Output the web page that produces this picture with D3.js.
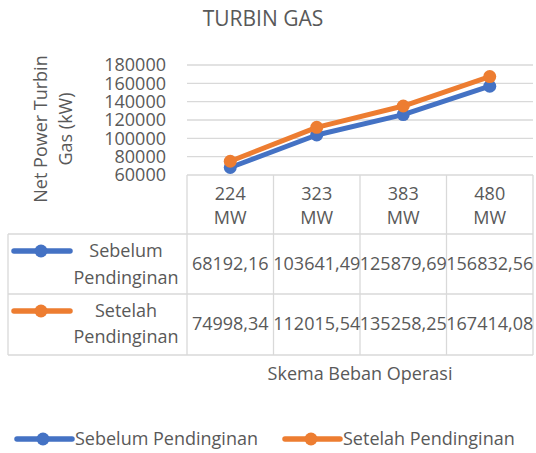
<!DOCTYPE html>
<html>
<head>
<meta charset="utf-8">
<script src="https://cdn.jsdelivr.net/npm/d3@7"></script>
<style>
  html, body { margin: 0; padding: 0; background: #fff; }
  svg { display: block; }
  text { font-family: "Open Sans", "Noto Sans", sans-serif; fill: #595959; }
</style>
</head>
<body>
<svg id="chart" width="536" height="453"></svg>
<script>
// ---- data ----
const categories = ["224 MW", "323 MW", "383 MW", "480 MW"];
const seriesNames = ["Sebelum Pendinginan", "Setelah Pendinginan"];
const sebelum = [68192.16, 103641.49, 125879.69, 156832.56];
const setelah = [74998.34, 112015.54, 135258.25, 167414.08];
const yTicks = [60000, 80000, 100000, 120000, 140000, 160000, 180000];
const colors = ["#4472C4", "#ED7D31"];
const chartTitle = "TURBIN GAS";
const yTitle = ["Net Power Turbin", "Gas (kW)"];
const xTitle = "Skema Beban Operasi";

const series = [
  { name: seriesNames[0], values: sebelum, color: colors[0] },
  { name: seriesNames[1], values: setelah, color: colors[1] }
];

// ---- layout ----
const plotLeft = 187, plotRight = 533, plotTop = 65, plotBottom = 175;
const tableLeft = 8;
const headerBottom = 234, row1Bottom = 294, row2Bottom = 355;
const gridColor = "#D9D9D9";

const svg = d3.select("#chart");
const x = d3.scaleBand().domain(categories).range([plotLeft, plotRight]);
const y = d3.scaleLinear().domain([60000, 180000]).range([plotBottom, plotTop]);
const locale = d3.formatLocale({ decimal: ",", thousands: "", grouping: [3], currency: ["", ""] });
const fmtVal = locale.format(".2f");
const fmtTick = d3.format("d");

// title
svg.append("text").attr("x", 263).attr("y", 26).attr("text-anchor", "middle")
  .style("font-size", "21px").text(chartTitle);

// gridlines
svg.append("g").selectAll("line").data(yTicks.filter(t => t > 60000)).join("line")
  .attr("x1", plotLeft).attr("x2", plotRight)
  .attr("y1", d => y(d)).attr("y2", d => y(d))
  .attr("stroke", gridColor).attr("stroke-width", 1.3);

// y axis labels
const yAxis = d3.axisLeft(y).tickValues(yTicks).tickFormat(fmtTick).tickSize(0).tickPadding(21);
const ga = svg.append("g").attr("transform", `translate(${plotLeft},0)`).call(yAxis);
ga.select(".domain").remove();
ga.selectAll("text").style("font-size", "18px").style("font-family", '"Open Sans", sans-serif').attr("fill", "#595959");

// y title
const yt = svg.append("text").attr("transform", "translate(40,129) rotate(-90)")
  .attr("text-anchor", "middle").style("font-size", "18px");
yTitle.forEach((t, i) => {
  yt.append("tspan").attr("x", 0).attr("y", i * 25).attr("dominant-baseline", "central").text(t);
});

// table lines
const tl = svg.append("g").attr("stroke", gridColor).attr("stroke-width", 1.3);
tl.append("line").attr("x1", plotLeft).attr("x2", plotRight).attr("y1", plotBottom).attr("y2", plotBottom);
[headerBottom, row1Bottom, row2Bottom].forEach(yy => {
  tl.append("line").attr("x1", tableLeft).attr("x2", plotRight).attr("y1", yy).attr("y2", yy);
});
tl.append("line").attr("x1", tableLeft).attr("x2", tableLeft).attr("y1", headerBottom).attr("y2", row2Bottom);
categories.forEach(c => {
  tl.append("line").attr("x1", x(c)).attr("x2", x(c)).attr("y1", plotBottom).attr("y2", row2Bottom);
});
tl.append("line").attr("x1", plotRight).attr("x2", plotRight).attr("y1", plotBottom).attr("y2", row2Bottom);

// header category labels
categories.forEach(c => {
  const parts = c.split(" ");
  const t = svg.append("text").attr("text-anchor", "middle").style("font-size", "18px");
  parts.forEach((p, i) => {
    t.append("tspan").attr("x", x(c) + x.bandwidth() / 2).attr("y", 200 + i * 24).text(p);
  });
});

// rows
const rowTops = [headerBottom, row1Bottom];
const rowLabelBase = [[257, 284], [317, 343]];
series.forEach((s, si) => {
  const rt = rowTops[si];
  const keyY = rt + 17;
  svg.append("line").attr("x1", 14).attr("x2", 70).attr("y1", keyY).attr("y2", keyY)
    .attr("stroke", s.color).attr("stroke-width", 5.5).attr("stroke-linecap", "round");
  svg.append("circle").attr("cx", 41).attr("cy", keyY).attr("r", 6.5).attr("fill", s.color);
  const words = s.name.split(" ");
  words.forEach((w, i) => {
    svg.append("text").attr("x", 126).attr("y", rowLabelBase[si][i]).attr("text-anchor", "middle")
      .style("font-size", "18px").text(w);
  });
  s.values.forEach((v, i) => {
    svg.append("text").attr("x", x(categories[i]) + x.bandwidth() / 2).attr("y", rt + 36)
      .attr("text-anchor", "middle").style("font-size", "18px").text(fmtVal(v));
  });
});

// lines + markers
const line = d3.line().x((d, i) => x(categories[i]) + x.bandwidth() / 2).y(d => y(d));
series.forEach(s => {
  svg.append("path").datum(s.values).attr("d", line).attr("fill", "none")
    .attr("stroke", s.color).attr("stroke-width", 5).attr("stroke-linejoin", "round").attr("stroke-linecap", "round");
  svg.append("g").selectAll("circle").data(s.values).join("circle")
    .attr("cx", (d, i) => x(categories[i]) + x.bandwidth() / 2).attr("cy", d => y(d))
    .attr("r", 6.5).attr("fill", s.color);
});

// x title
svg.append("text").attr("x", 360).attr("y", 380).attr("text-anchor", "middle")
  .style("font-size", "18px").text(xTitle);

// bottom legend
const legendItems = [
  { name: seriesNames[0], color: colors[0], x0: 17 },
  { name: seriesNames[1], color: colors[1], x0: 285 }
];
legendItems.forEach(l => {
  svg.append("line").attr("x1", l.x0).attr("x2", l.x0 + 55).attr("y1", 439).attr("y2", 439)
    .attr("stroke", l.color).attr("stroke-width", 5.5).attr("stroke-linecap", "round");
  svg.append("circle").attr("cx", l.x0 + 26).attr("cy", 439).attr("r", 6.5).attr("fill", l.color);
  svg.append("text").attr("x", l.x0 + 58).attr("y", 445).style("font-size", "18px").text(l.name);
});
</script>
</body>
</html>
